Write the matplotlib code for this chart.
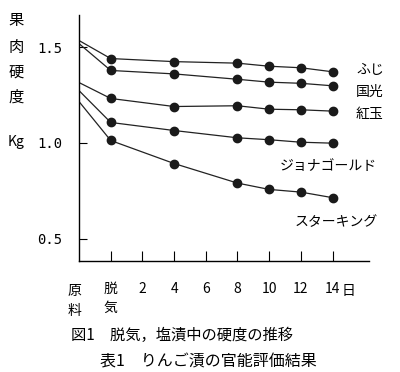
import matplotlib
matplotlib.use("Agg")
import matplotlib.pyplot as plt

plt.rcParams["font.family"] = ["Noto Sans CJK JP", "DejaVu Sans"]

# x categories: 原料, 脱気, then days 2..14
x_labels = ["原\n料", "脱\n気", "2", "4", "6", "8", "10", "12", "14"]
x_pos = [0, 1, 2, 3, 4, 5, 6, 7, 8]

# measured points (原料, 脱気, day 4, 8, 10, 12, 14)
point_pos = [0, 1, 3, 5, 6, 7, 8]
series_names = ["ふじ", "国光", "紅玉", "ジョナゴールド", "スターキング"]
fuji = [1.534, 1.440, 1.424, 1.416, 1.400, 1.392, 1.371]
kokko = [1.518, 1.378, 1.360, 1.332, 1.317, 1.311, 1.298]
kogyoku = [1.315, 1.232, 1.190, 1.194, 1.176, 1.173, 1.166]
jonagold = [1.273, 1.107, 1.065, 1.027, 1.017, 1.004, 0.999]
starking = [1.216, 1.013, 0.893, 0.791, 0.758, 0.744, 0.715]
series = [fuji, kokko, kogyoku, jonagold, starking]

y_ticks = [0.5, 1.0, 1.5]

fig = plt.figure(figsize=(4.0, 3.72), dpi=100)
ax = fig.add_axes([0.1975, 0.2984, 0.725, 0.6613])

for vals in series:
    # first point (原料) sits on the axis without a marker
    ax.plot(point_pos, vals, color="#222222", lw=0.9)
    ax.plot(point_pos[1:], vals[1:], "o", color="#1a1a1a", ms=6)

ax.set_xlim(0, 9.15)
ax.set_ylim(0.385, 1.667)
ax.spines["top"].set_visible(False)
ax.spines["right"].set_visible(False)
ax.spines["left"].set_linewidth(1.0)
ax.spines["bottom"].set_linewidth(1.0)

ax.set_yticks(y_ticks)
ax.set_yticklabels([f"{v:.1f}" for v in y_ticks], family="DejaVu Sans Mono", fontsize=10)
ax.tick_params(axis="y", direction="in", length=6, pad=12)

ax.set_xticks(x_pos[1:])
ax.set_xticklabels(x_labels[1:], fontsize=10, linespacing=1.5)
ax.tick_params(axis="x", direction="in", length=7, pad=15)

# 原料 label under the y axis
ax.text(-0.15, -0.095, x_labels[0], transform=ax.get_xaxis_transform(),
        ha="center", va="top", fontsize=10, linespacing=1.5)
ax.text(8.3, -0.095, "日", transform=ax.get_xaxis_transform(),
        ha="left", va="top", fontsize=10)

# series labels
label_pos = [(356, 70), (356, 92), (356, 114), (280, 166), (295, 222)]
for name, (px, py) in zip(series_names, label_pos):
    fig.text(px / 400, 1 - py / 372, name, ha="left", va="center", fontsize=10)

# y axis title, stacked vertically
for ch, py in zip("果肉硬度", [20, 47, 72, 97]):
    fig.text(16 / 400, 1 - py / 372, ch, ha="center", va="center", fontsize=11)
fig.text(16 / 400, 1 - 142 / 372, "Kg", ha="center", va="center", fontsize=10)

fig.text(71 / 400, 1 - 335 / 372, "図1　脱気，塩漬中の硬度の推移",
         ha="left", va="center", fontsize=11)
fig.text(100 / 400, 1 - 362 / 372, "表1　りんご漬の官能評価結果",
         ha="left", va="center", fontsize=11.5)

fig.savefig("out.png", dpi=100)
